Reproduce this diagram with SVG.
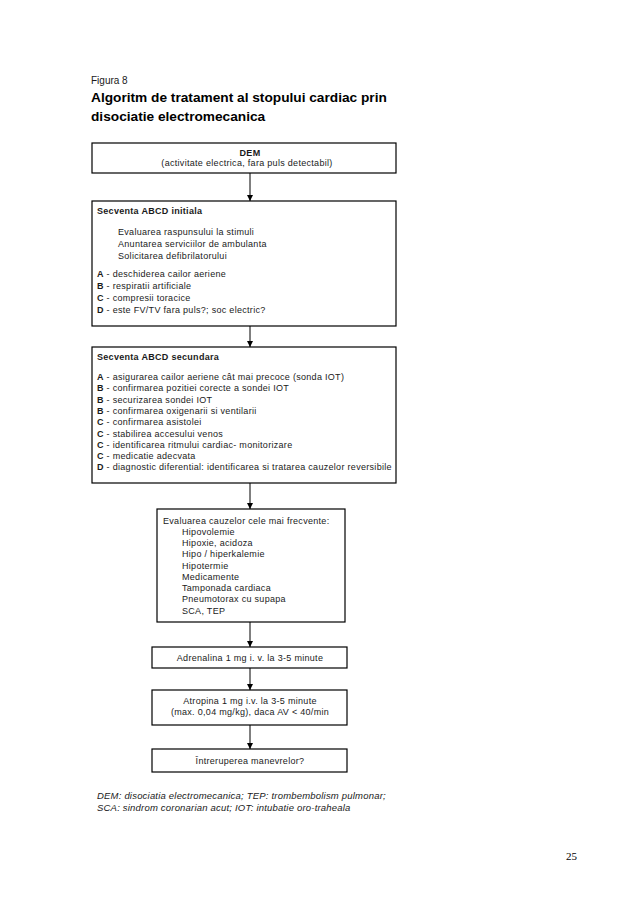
<svg xmlns="http://www.w3.org/2000/svg" width="638" height="903" viewBox="0 0 638 903">
<style>
text{font-family:"Liberation Sans",Arial,sans-serif;fill:#1a1a1a}
.t{font-size:9px;letter-spacing:0.3px}
.b{font-weight:bold}
.c{text-anchor:middle}
.box{fill:#fff;stroke:#000;stroke-width:1.2}
.ln{stroke:#000;stroke-width:1;fill:none;marker-end:url(#ah)}
.fn{font-size:9.5px;font-style:italic;letter-spacing:0.2px}
</style>
<defs>
<marker id="ah" markerWidth="6" markerHeight="7" refX="6" refY="3.5" orient="auto" markerUnits="userSpaceOnUse">
<path d="M0,0.5 L6,3.5 L0,6.5 z" fill="#000"/>
</marker>
</defs>
<rect width="638" height="903" fill="#fff"/>
<text x="91" y="84" style="font-size:10px">Figura 8</text>
<text x="91" y="102" class="b" style="font-size:13.7px;fill:#000">Algoritm de tratament al stopului cardiac prin</text>
<text x="91" y="121" class="b" style="font-size:13.7px;fill:#000">disociatie electromecanica</text>

<g id="connectors">
<line class="ln" x1="250" y1="173" x2="250" y2="201"/>
<line class="ln" x1="250" y1="326" x2="250" y2="347"/>
<line class="ln" x1="250" y1="483" x2="250" y2="509"/>
<line class="ln" x1="250" y1="622" x2="250" y2="647"/>
<line class="ln" x1="250" y1="668" x2="250" y2="690"/>
<line class="ln" x1="250" y1="725" x2="250" y2="749"/>
</g>

<g id="n1">
<rect class="box" x="92" y="143" width="304" height="30"/>
<text x="250" y="156" class="t b c">DEM</text>
<text x="247" y="166" class="t c">(activitate electrica, fara puls detectabil)</text>
</g>

<g id="n2">
<rect class="box" x="92" y="201" width="304" height="125"/>
<text x="97" y="214" class="t b">Secventa ABCD initiala</text>
<text x="118" y="235" class="t">Evaluarea raspunsului la stimuli</text>
<text x="118" y="247" class="t">Anuntarea serviciilor de ambulanta</text>
<text x="118" y="259" class="t">Solicitarea defibrilatorului</text>
<text x="97" y="277" class="t"><tspan class="b">A</tspan> - deschiderea cailor aeriene</text>
<text x="97" y="289" class="t"><tspan class="b">B</tspan> - respiratii artificiale</text>
<text x="97" y="301" class="t"><tspan class="b">C</tspan> - compresii toracice</text>
<text x="97" y="313" class="t"><tspan class="b">D</tspan> - este FV/TV fara puls?; soc electric?</text>
</g>

<g id="n3">
<rect class="box" x="92" y="347" width="304" height="136"/>
<text x="97" y="360" class="t b">Secventa ABCD secundara</text>
<text x="97" y="380" class="t"><tspan class="b">A</tspan> - asigurarea cailor aeriene cât mai precoce (sonda IOT)</text>
<text x="97" y="391.3" class="t"><tspan class="b">B</tspan> - confirmarea pozitiei corecte a sondei IOT</text>
<text x="97" y="402.6" class="t"><tspan class="b">B</tspan> - securizarea sondei IOT</text>
<text x="97" y="413.9" class="t"><tspan class="b">B</tspan> - confirmarea oxigenarii si ventilarii</text>
<text x="97" y="425.2" class="t"><tspan class="b">C</tspan> - confirmarea asistolei</text>
<text x="97" y="436.5" class="t"><tspan class="b">C</tspan> - stabilirea accesului venos</text>
<text x="97" y="447.8" class="t"><tspan class="b">C</tspan> - identificarea ritmului cardiac- monitorizare</text>
<text x="97" y="459.1" class="t"><tspan class="b">C</tspan> - medicatie adecvata</text>
<text x="97" y="470.4" class="t"><tspan class="b">D</tspan> - diagnostic diferential: identificarea si tratarea cauzelor reversibile</text>
</g>

<g id="n4">
<rect class="box" x="157" y="509" width="188" height="113"/>
<text x="163" y="524" class="t">Evaluarea cauzelor cele mai frecvente:</text>
<text x="182" y="535" class="t">Hipovolemie</text>
<text x="182" y="546" class="t">Hipoxie, acidoza</text>
<text x="182" y="557" class="t">Hipo / hiperkalemie</text>
<text x="182" y="569" class="t">Hipotermie</text>
<text x="182" y="580" class="t">Medicamente</text>
<text x="182" y="591" class="t">Tamponada cardiaca</text>
<text x="182" y="602" class="t">Pneumotorax cu supapa</text>
<text x="182" y="614" class="t">SCA, TEP</text>
</g>

<g id="n5">
<rect class="box" x="152" y="647" width="195" height="21"/>
<text x="250" y="661" class="t c">Adrenalina 1 mg i. v. la 3-5 minute</text>
</g>

<g id="n6">
<rect class="box" x="152" y="690" width="195" height="35"/>
<text x="250" y="704" class="t c">Atropina 1 mg i.v. la 3-5 minute</text>
<text x="250" y="715" class="t c">(max. 0,04 mg/kg), daca AV &lt; 40/min</text>
</g>

<g id="n7">
<rect class="box" x="152" y="749" width="195" height="23"/>
<text x="250" y="764" class="t c">Întreruperea manevrelor?</text>
</g>

<text x="97" y="799" class="fn">DEM: disociatia electromecanica; TEP: trombembolism pulmonar;</text>
<text x="97" y="811" class="fn">SCA: sindrom coronarian acut; IOT: intubatie oro-traheala</text>
<text x="566" y="860" style="font-family:'Liberation Serif',serif;font-size:11px;fill:#000">25</text>
</svg>
